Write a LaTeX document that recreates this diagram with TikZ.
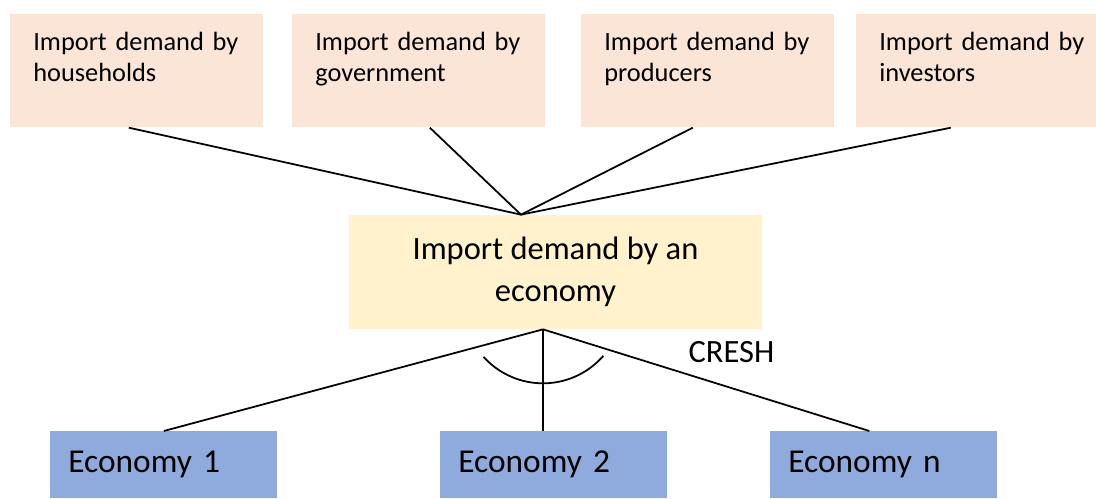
\documentclass[tikz,border=0pt]{standalone}
\usepackage{fontspec}
\setmainfont{Carlito}
\usetikzlibrary{calc}

\definecolor{peach}{HTML}{FBE5D6}
\definecolor{lightgold}{HTML}{FFF2CC}
\definecolor{econblue}{HTML}{8FAADC}

\begin{document}
\begin{tikzpicture}[x=0.02cm, y=0.02cm,
        demand/.style={fill=peach, anchor=north west, inner xsep=0.46cm, inner ysep=0pt,
            text width=4.14cm, align=left, text height=0.72cm, text depth=1.54cm,
            font=\fontsize{15}{18}\selectfont},
        total/.style={fill=lightgold, minimum width=8.26cm, minimum height=2.28cm,
            align=center, font=\fontsize{18.5}{24}\selectfont},
        country/.style={fill=econblue, anchor=north west, inner xsep=0.36cm, inner ysep=0pt,
            text width=3.82cm, minimum height=1.34cm, align=left,
            font=\fontsize{19}{23}\selectfont},
        link/.style={black, line width=1pt}]
        \useasboundingbox (0,0) rectangle (1096,498);

        % who demands the imports
        \node[demand] (hh) at (10,484) {Import demand by\\households};
        \node[demand] (gov) at (292,484) {Import demand by\\government};
        \node[demand] (prod) at (581,484) {Import demand by\\producers};
        \node[demand] (inv) at (856,484) {Import demand by\\investors};

        % total demand of one economy
        \node[total] (econ) at (555.5,226) {Import demand by an\\economy};
        \coordinate (top) at ($(econ.north)+(-34.5,0)$);
        \coordinate (split) at ($(econ.south)+(-12.5,0)$);

        % source economies
        \node[country] (c1) at (50,67) {Economy 1};
        \node[country] (c2) at (440,67) {Economy 2};
        \node[country] (cn) at (770,67) {Economy n};

        \draw[link] ($(hh.south)+(-8,0)$) -- (top);
        \draw[link] ($(gov.south)+(11,0)$) -- (top);
        \draw[link] ($(prod.south)+(-15,0)$) -- (top);
        \draw[link] ($(inv.south)+(-32,0)$) -- (top);

        \draw[link] (split) -- (c1.north);
        \draw[link] (split) -- (split |- c2.north);
        \draw[link] (split) -- ($(cn.north)+(-14.5,0)$);

        % CRESH nest
        \draw[link] ($(split)+(0,26)+(222:80)$) arc[start angle=222, end angle=319, radius=1.6cm];
        \node[font=\fontsize{18.5}{22}\selectfont] (cresh) at (731.5,146) {CRESH};
    \end{tikzpicture}
\end{document}
